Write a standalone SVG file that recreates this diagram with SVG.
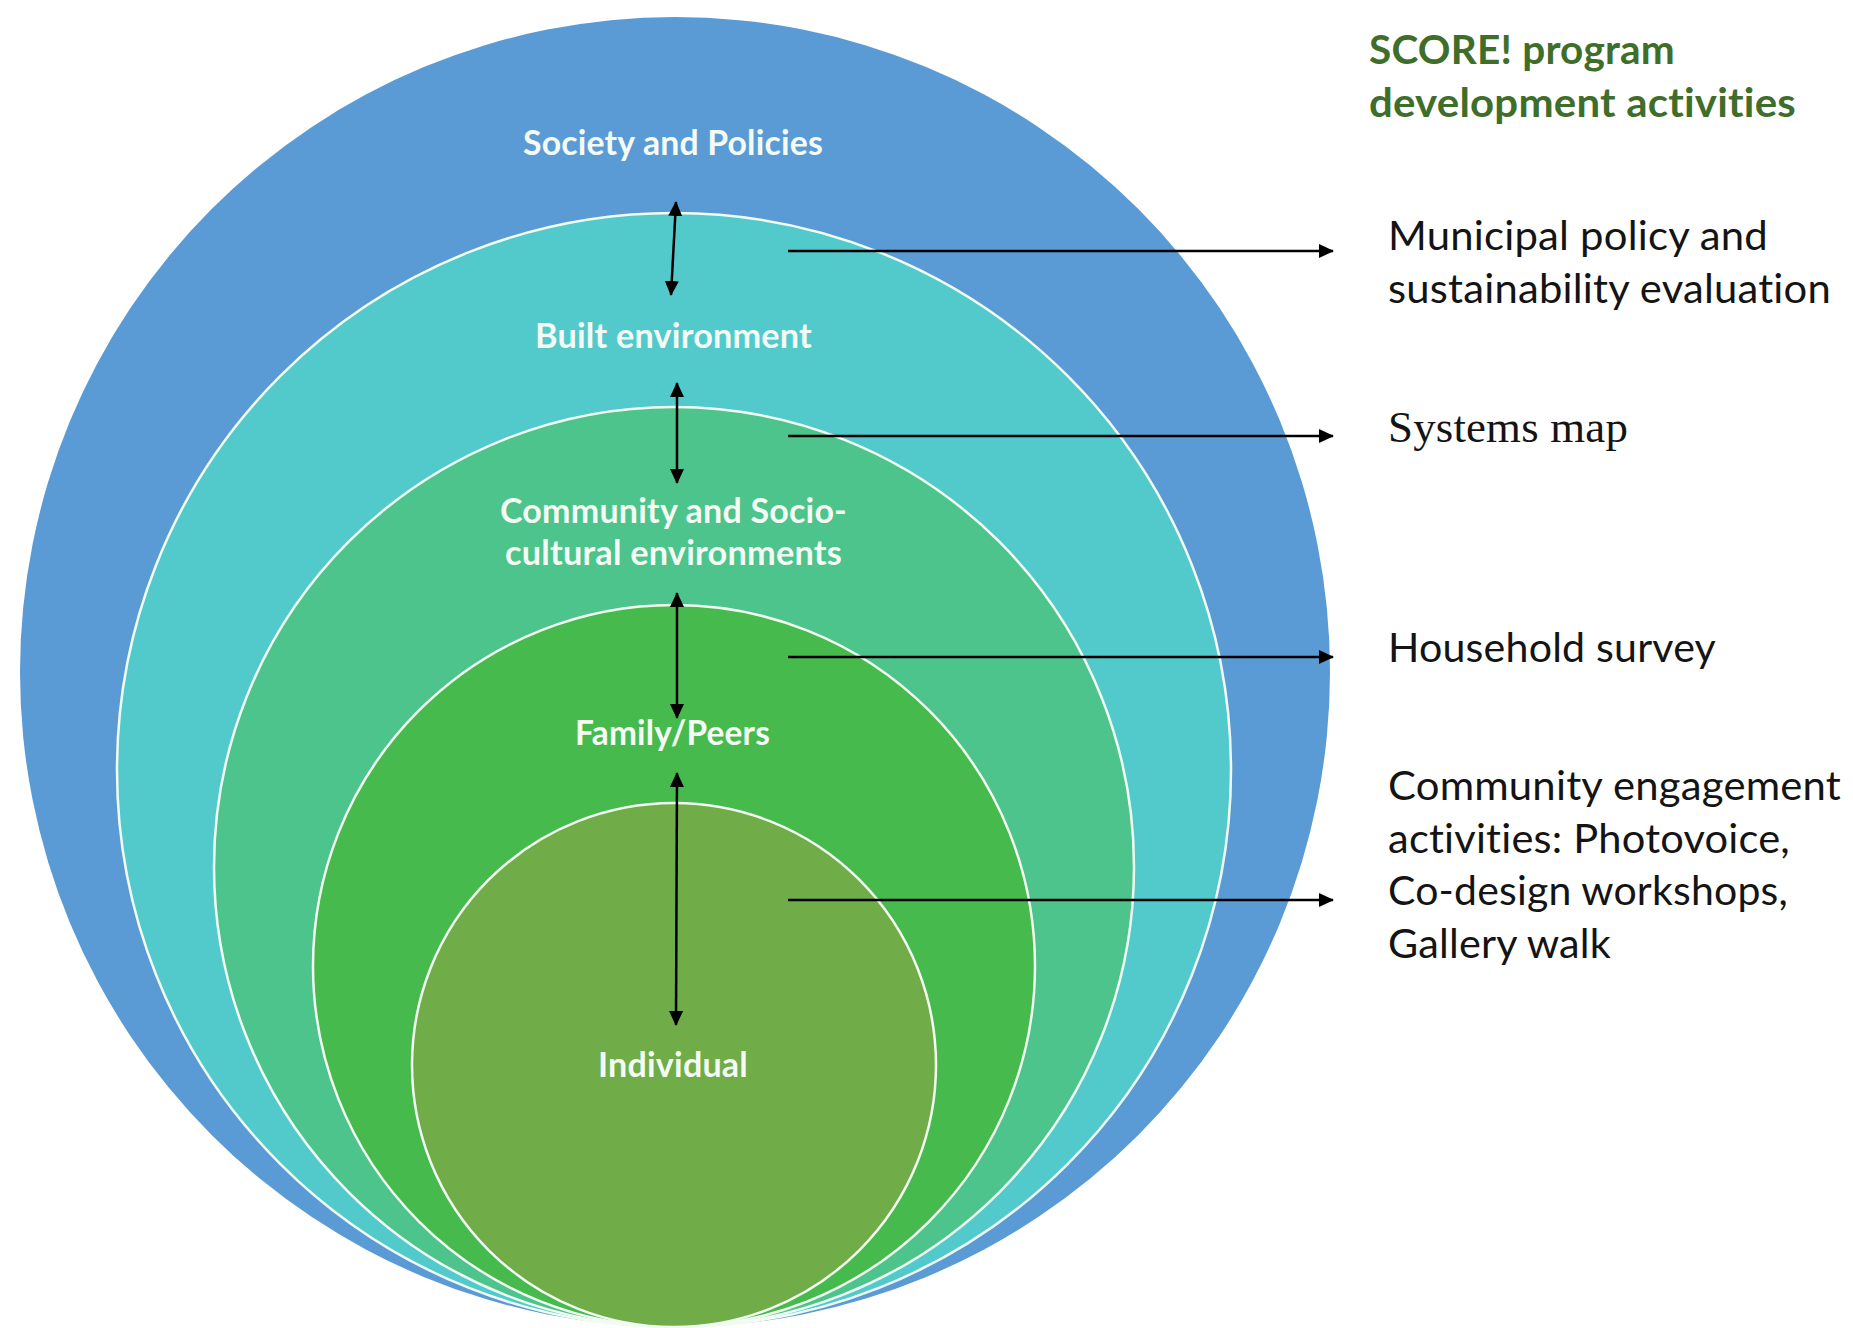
<svg xmlns="http://www.w3.org/2000/svg" width="1853" height="1328" viewBox="0 0 1853 1328">
<style>
text{font-variant-ligatures:none;font-feature-settings:"liga" 0,"clig" 0,"dlig" 0;letter-spacing:0.2px}
.ring{stroke:#f2fbf2;stroke-width:2.5}
.lbl{font-family:Lato,"Open Sans","Liberation Sans",sans-serif;font-weight:700;font-size:35px;fill:#f4fbf4;text-anchor:start}
.act{font-family:Lato,"Open Sans","Liberation Sans",sans-serif;font-size:41px;fill:#141414}
.ttl{font-family:Lato,"Open Sans","Liberation Sans",sans-serif;font-weight:700;font-size:41px;fill:#3f6e2a}
.ser{font-family:"Liberation Serif","Times New Roman",serif;font-size:45px;fill:#141414}
.conn{stroke:#000;stroke-width:2.5;fill:none}
</style>
<defs>
<marker id="ah" viewBox="0 0 15 14" refX="14" refY="7" markerWidth="15" markerHeight="14" markerUnits="userSpaceOnUse" orient="auto-start-reverse">
<path d="M0,0 L15,7 L0,14 z" fill="#000"/>
</marker>
</defs>
<rect x="0" y="0" width="1853" height="1328" fill="#ffffff"/>

<g id="society">
<circle cx="675" cy="672" r="655" fill="#5b9bd5"/>
<text class="lbl" x="523" y="155" textLength="300" lengthAdjust="spacingAndGlyphs">Society and Policies</text>
</g>
<g id="built">
<circle class="ring" cx="674" cy="770" r="557" fill="#52cacb"/>
<text class="lbl" x="535" y="348" textLength="277" lengthAdjust="spacingAndGlyphs">Built environment</text>
</g>
<g id="community">
<circle class="ring" cx="674" cy="867" r="460" fill="#4cc48b"/>
<text class="lbl" x="500" y="523" textLength="347" lengthAdjust="spacingAndGlyphs">Community and Socio-</text>
<text class="lbl" x="505" y="565" textLength="337" lengthAdjust="spacingAndGlyphs">cultural environments</text>
</g>
<g id="family">
<circle class="ring" cx="674" cy="966" r="361" fill="#47ba4d"/>
<text class="lbl" x="575" y="745" textLength="195" lengthAdjust="spacingAndGlyphs">Family/Peers</text>
</g>
<g id="individual">
<circle class="ring" cx="674" cy="1065" r="262" fill="#70ac47"/>
<text class="lbl" x="598" y="1077" textLength="150" lengthAdjust="spacingAndGlyphs">Individual</text>
</g>

<g id="title">
<text class="ttl" x="1369" y="64" textLength="306" lengthAdjust="spacingAndGlyphs">SCORE! program</text>
<text class="ttl" x="1369" y="117" textLength="427" lengthAdjust="spacingAndGlyphs">development activities</text>
</g>
<g id="act-municipal">
<text class="act" x="1388" y="250" textLength="380" lengthAdjust="spacingAndGlyphs">Municipal policy and</text>
<text class="act" x="1388" y="303" textLength="443" lengthAdjust="spacingAndGlyphs">sustainability evaluation</text>
</g>
<g id="act-systems">
<text class="ser" x="1388" y="442" textLength="240" lengthAdjust="spacingAndGlyphs">Systems map</text>
</g>
<g id="act-household">
<text class="act" x="1388" y="662" textLength="328" lengthAdjust="spacingAndGlyphs">Household survey</text>
</g>
<g id="act-community">
<text class="act" x="1388" y="800" textLength="453" lengthAdjust="spacingAndGlyphs">Community engagement</text>
<text class="act" x="1388" y="853" textLength="402" lengthAdjust="spacingAndGlyphs">activities: Photovoice,</text>
<text class="act" x="1388" y="905" textLength="400" lengthAdjust="spacingAndGlyphs">Co-design workshops,</text>
<text class="act" x="1388" y="958" textLength="223" lengthAdjust="spacingAndGlyphs">Gallery walk</text>
</g>

<g id="connectors">
<line class="conn" x1="676" y1="202" x2="671" y2="295" marker-start="url(#ah)" marker-end="url(#ah)"/>
<line class="conn" x1="677" y1="383" x2="677" y2="483" marker-start="url(#ah)" marker-end="url(#ah)"/>
<line class="conn" x1="677" y1="593" x2="677" y2="718" marker-start="url(#ah)" marker-end="url(#ah)"/>
<line class="conn" x1="677" y1="773" x2="676" y2="1025" marker-start="url(#ah)" marker-end="url(#ah)"/>
<line class="conn" x1="788" y1="251" x2="1333" y2="251" marker-end="url(#ah)"/>
<line class="conn" x1="788" y1="436" x2="1333" y2="436" marker-end="url(#ah)"/>
<line class="conn" x1="788" y1="657" x2="1333" y2="657" marker-end="url(#ah)"/>
<line class="conn" x1="788" y1="900" x2="1333" y2="900" marker-end="url(#ah)"/>
</g>
</svg>
